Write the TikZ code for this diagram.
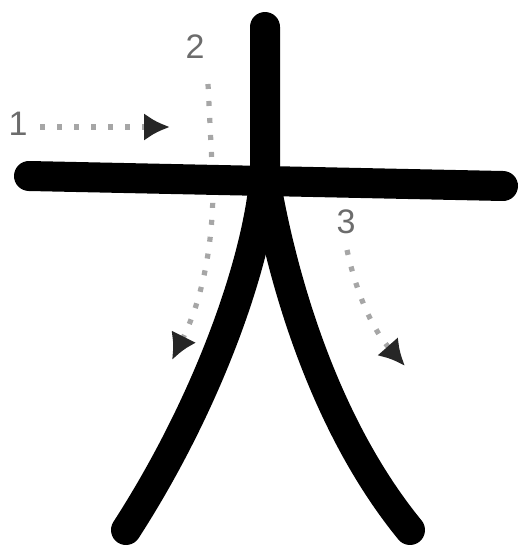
\documentclass[tikz,border=0pt]{standalone}
\usepackage{fontspec}
\setsansfont{Liberation Sans}
\usetikzlibrary{arrows.meta}
\begin{document}
\begin{tikzpicture}[x=0.5pt,y=-0.5pt,
  brush/.style={line width=15pt,line cap=round,black},
  hint/.style={line width=2.6pt,gray!70,dash pattern=on 2.5pt off 6pt,
     -{Latex[length=13pt,width=14pt,color=black!85]}},
  num/.style={text=gray!85!black,font=\sffamily\fontsize{17}{17}\selectfont,inner sep=0pt}]
\useasboundingbox (0,0) rectangle (520,546);
% stroke order labels
\node[num] (n1) at (18,124) {1};
\node[num] (n2) at (195,47) {2};
\node[num] (n3) at (346,222) {3};
% hint coordinates
\coordinate (a1s) at (40,127);
\coordinate (a1e) at (170,127);
\coordinate (a2s) at (208,84);
\coordinate (a2m) at (213,185);
\coordinate (a2e) at (172,360);
\coordinate (a3s) at (347,250);
\coordinate (a3e) at (405,366);
% dotted hint arrows
\draw[hint] (a1s) -- (a1e);
\draw[hint] (a2s) -- (a2m) .. controls (213,260) and (197,310) .. (a2e);
\draw[hint] (a3s) .. controls (358,300) and (375,332) .. (a3e);
% strokes of the character
\coordinate (h1) at (29,176);
\coordinate (h2) at (503,186);
\coordinate (v1) at (265,27);
\coordinate (v2) at (265,170);
\coordinate (v3) at (126,530);
\coordinate (r1) at (268,195);
\coordinate (r2) at (410,530);
\draw[brush] (h1) -- (h2);
\draw[brush] (v1) -- (v2) .. controls (260,255) and (210,400) .. (v3);
\draw[brush] (r1) .. controls (282,270) and (320,420) .. (r2);
\end{tikzpicture}
\end{document}
